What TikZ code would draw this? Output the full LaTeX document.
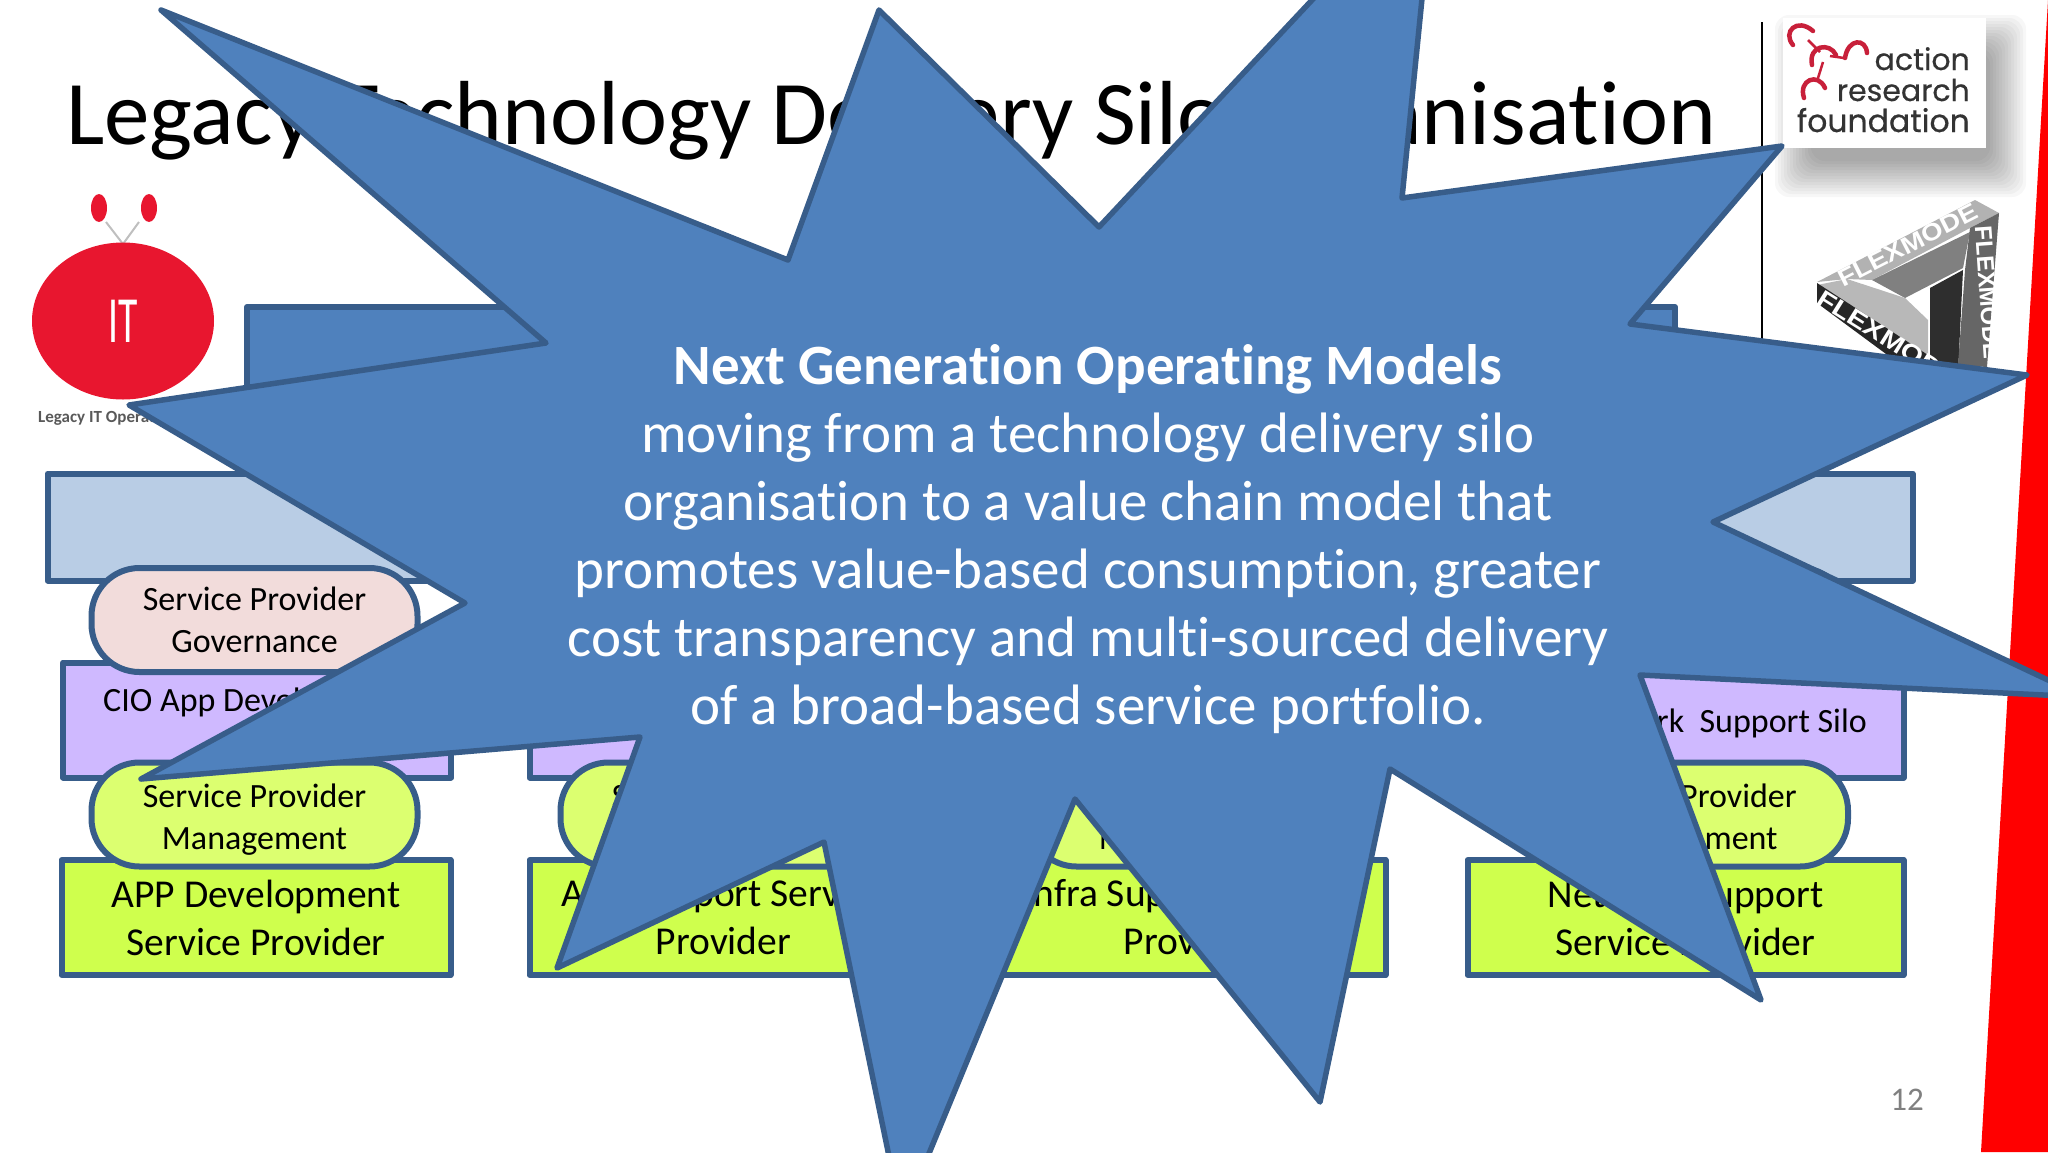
\documentclass[tikz,border=0pt]{standalone}
\usetikzlibrary{shapes.geometric}
\usepackage{fontspec}
\setmainfont[Ligatures=NoCommon]{Carlito}
\newfontfamily\logofont[FakeBold=0.5]{Poppins}
\newfontfamily\flexfont{Liberation Sans}
\usepackage{xcolor}
\definecolor{starfill}{HTML}{4F81BD}
\definecolor{edgeblue}{HTML}{385D8A}
\definecolor{barblue}{HTML}{B9CDE5}
\definecolor{silopurple}{HTML}{CFB9FF}
\definecolor{govpink}{HTML}{F2DCDB}
\definecolor{mgmtgreen}{HTML}{DCFF70}
\definecolor{provgreen}{HTML}{CFFF4D}
\definecolor{itred}{HTML}{E8162F}
\definecolor{logored}{HTML}{C8203A}
\newcommand{\mgmtlabel}{\rule{0pt}{34pt}Service Provider\\Management}

\begin{document}
\begin{tikzpicture}[x=1pt,y=-1pt]
%style for the blue bars
\tikzstyle{bluebar} = [rectangle, inner sep=0, line width=6pt, line join=round, draw=edgeblue]

%style for silo box
\tikzstyle{silobox} = [rectangle, inner sep=0, line width=6pt, line join=round, fill=silopurple, draw=edgeblue, minimum height=115]

%style for provider box
\tikzstyle{provbox} = [rectangle, inner sep=0, line width=6pt, line join=round, fill=provgreen, draw=edgeblue, minimum height=115, align=center, font=\fontsize{39.5}{48}\selectfont]

%style for pills
\tikzstyle{pill} = [rectangle, rounded corners=48pt, inner sep=0, line width=6pt, draw=edgeblue, minimum width=326, minimum height=104, align=center, font=\fontsize{34}{42}\selectfont]

%style for flexmode lettering
\tikzstyle{flexletters} = [inner sep=0, text=white, font=\flexfont\bfseries\fontsize{24}{24}\selectfont]

\useasboundingbox (0,0) rectangle (2048,1152);
\clip (0,0) rectangle (2048,1152);

%title and page furniture
\node[anchor=base west, inner sep=0, font=\fontsize{91}{91}\selectfont] (title) at (66,144) {Legacy Technology Delivery Silo Organisation};
\fill[red] (2048,0) -- (2048,1152) -- (1981,1152) -- cycle;
\draw[line width=2pt] (1762,22) -- (1762,340);
\node[text=gray, font=\fontsize{33}{33}\selectfont] (pageNumber) at (1907,1100) {12};

%legacy IT logo
\draw[lightgray, line width=2pt] (106,222) -- (123,244) -- (139,222);
\node[ellipse, fill=itred, minimum width=16, minimum height=28, inner sep=0] (itLeft) at (99,208) {};
\node[ellipse, fill=itred, minimum width=16, minimum height=28, inner sep=0] (itRight) at (149,208) {};
\node[ellipse, fill=itred, minimum width=182, minimum height=157, inner sep=0] (itBody) at (123,321) {};
\node[text=white, xscale=0.6, font=\fontsize{66}{66}\selectfont] (itText) at (123,321) {IT};
\node[anchor=base west, inner sep=0, text=black!65, font=\bfseries\fontsize{17}{17}\selectfont] (itCaption) at (38,422) {Legacy IT Operating Model};

%action research logo
\foreach \r in {27,24,21,18,15,12,9,6,3,0,-3,-6,-9}
  \fill[black, opacity=0.03, rounded corners=14] (1802-\r,42-\r) rectangle (1999+\r,170+\r);
\node[rectangle, fill=white, minimum width=203, minimum height=130, inner sep=0] (arfBox) at (1884.5,83) {};
\node[anchor=base east, inner sep=0, text=black!80, font=\logofont\fontsize{30}{32}\selectfont] (arfAction) at (1970,70) {action};
\node[anchor=base east, inner sep=0, text=black!80, font=\logofont\fontsize{30}{32}\selectfont] (arfResearch) at (1970,101) {research};
\node[anchor=base east, inner sep=0, text=black!80, font=\logofont\fontsize{31.5}{32}\selectfont] (arfFoundation) at (1970,132) {foundation};
\draw[logored, line width=4.5pt, line cap=round] (1793,45) .. controls (1782,32) and (1797,17) .. (1813,31);
\draw[logored, line width=4.5pt, line cap=round] (1812,65) .. controls (1808,45) and (1830,42) .. (1836,55);
\draw[logored, line width=4.5pt, line cap=round] (1845,58) .. controls (1848,38) and (1866,38) .. (1867,53);
\draw[logored, line width=4.5pt, line cap=round] (1804,98) .. controls (1798,80) and (1818,72) .. (1825,88);
\draw[logored, line width=2.5pt] (1808,40) -- (1820,52);
\draw[logored, line width=2.5pt] (1830,56) -- (1844,58);
\draw[logored, line width=2.5pt] (1823,62) -- (1818,78);

%flexmode logo
\fill[black!30] (1975,200) -- (1999,213) -- (1970,228) -- (1872,280) -- (1847,279) -- (1817,282) -- cycle;
\fill[black!50] (1970,232) -- (1963,268) -- (1905,298) -- (1872,280) -- cycle;
\fill[black!28] (1817,285) -- (1847,279) -- (1905,298) -- (1928,320) -- (1928,355) -- cycle;
\fill[black!85] (1817,283) -- (1928,355) -- (1928,385) -- (1817,303) -- cycle;
\fill[black!82] (1930,288) -- (1963,270) -- (1958,373) -- (1930,375) -- cycle;
\fill[black!60] (1970,228) -- (1999,213) -- (1987,367) -- (1958,365) -- (1965,270) -- cycle;
\node[flexletters, rotate=27, xscale=1.15] (flexTop) at (1908,245) {FLEXMODE};
\node[flexletters, rotate=-32, xscale=1.2, anchor=west] (flexLeft) at (1820,296) {FLEXMODE};
\node[flexletters, rotate=-86, anchor=west] (flexRight) at (1983,226) {FLEXMODE};

%place nodes
\node[bluebar, fill=starfill, minimum width=1428, minimum height=110] (topBar) at (961,362) {};
\node[bluebar, fill=barblue, minimum width=1865, minimum height=107] (valueBar) at (980,527) {};

\node[silobox, minimum width=388] (siloApp) at (257,720) {};
\node[silobox, minimum width=388] (siloSupport) at (723.5,720) {};
\node[silobox, minimum width=380] (siloInfra) at (1185,712) {};
\node[silobox, minimum width=436] (siloNetwork) at (1685.5,720) {};
\node[anchor=base west, inner sep=0, font=\fontsize{34}{34}\selectfont] (siloAppText) at (103,711) {CIO App Development Silo};
\node[anchor=base east, inner sep=0, font=\fontsize{34}{34}\selectfont] (siloNetworkText) at (1867,732) {Network\ \ Support Silo};

\node[pill, fill=govpink] (govApp) at (254.5,620) {Service Provider\\Governance};
\node[pill, fill=govpink] (govNetwork) at (1685,620) {};

\node[provbox, minimum width=389] (provApp) at (256,917.5) {APP Development\\Service Provider};
\node[provbox, minimum width=388] (provSupport) at (723.5,917.5) {APP Support Service\\Provider};
\node[provbox, minimum width=388] (provInfra) at (1191.5,917.5) {Infra Support Service\\Provider};
\node[provbox, minimum width=436] (provNetwork) at (1685.5,917.5) {Network Support\\Service Provider};

\node[pill, fill=mgmtgreen] (mgmtApp) at (254.5,814.5) {\mgmtlabel};
\node[pill, fill=mgmtgreen] (mgmtSupport) at (723.5,814.5) {\mgmtlabel};
\node[pill, fill=mgmtgreen] (mgmtInfra) at (1191.5,814.5) {\mgmtlabel};
\node[pill, fill=mgmtgreen] (mgmtNetwork) at (1685,814.5) {\mgmtlabel};

%the star on top of everything
\draw[fill=starfill, draw=edgeblue, line width=5.5pt, line join=round] (161,10) -- (788,260) -- (879,10) -- (1099,227) -- (1435,-131) -- (1402,198) -- (1782,146) -- (1630,324) -- (2027,375) -- (1713,522) -- (2084,697) -- (1640,675) -- (1761,1000) -- (1390,769) -- (1320,1102) -- (1075,799) -- (902,1219) -- (824,842) -- (557,968) -- (640,737) -- (141,779) -- (465,603) -- (129,405) -- (546,343) -- cycle;

\node[text=white, align=center, font=\fontsize{57}{68}\selectfont] (starText) at (1088,539) {\textbf{Next Generation Operating Models}\\moving from a technology delivery silo\\organisation to a value chain model that\\promotes value-based consumption, greater\\cost transparency and multi-sourced delivery\\of a broad-based service portfolio.};
\end{tikzpicture}
\end{document}
